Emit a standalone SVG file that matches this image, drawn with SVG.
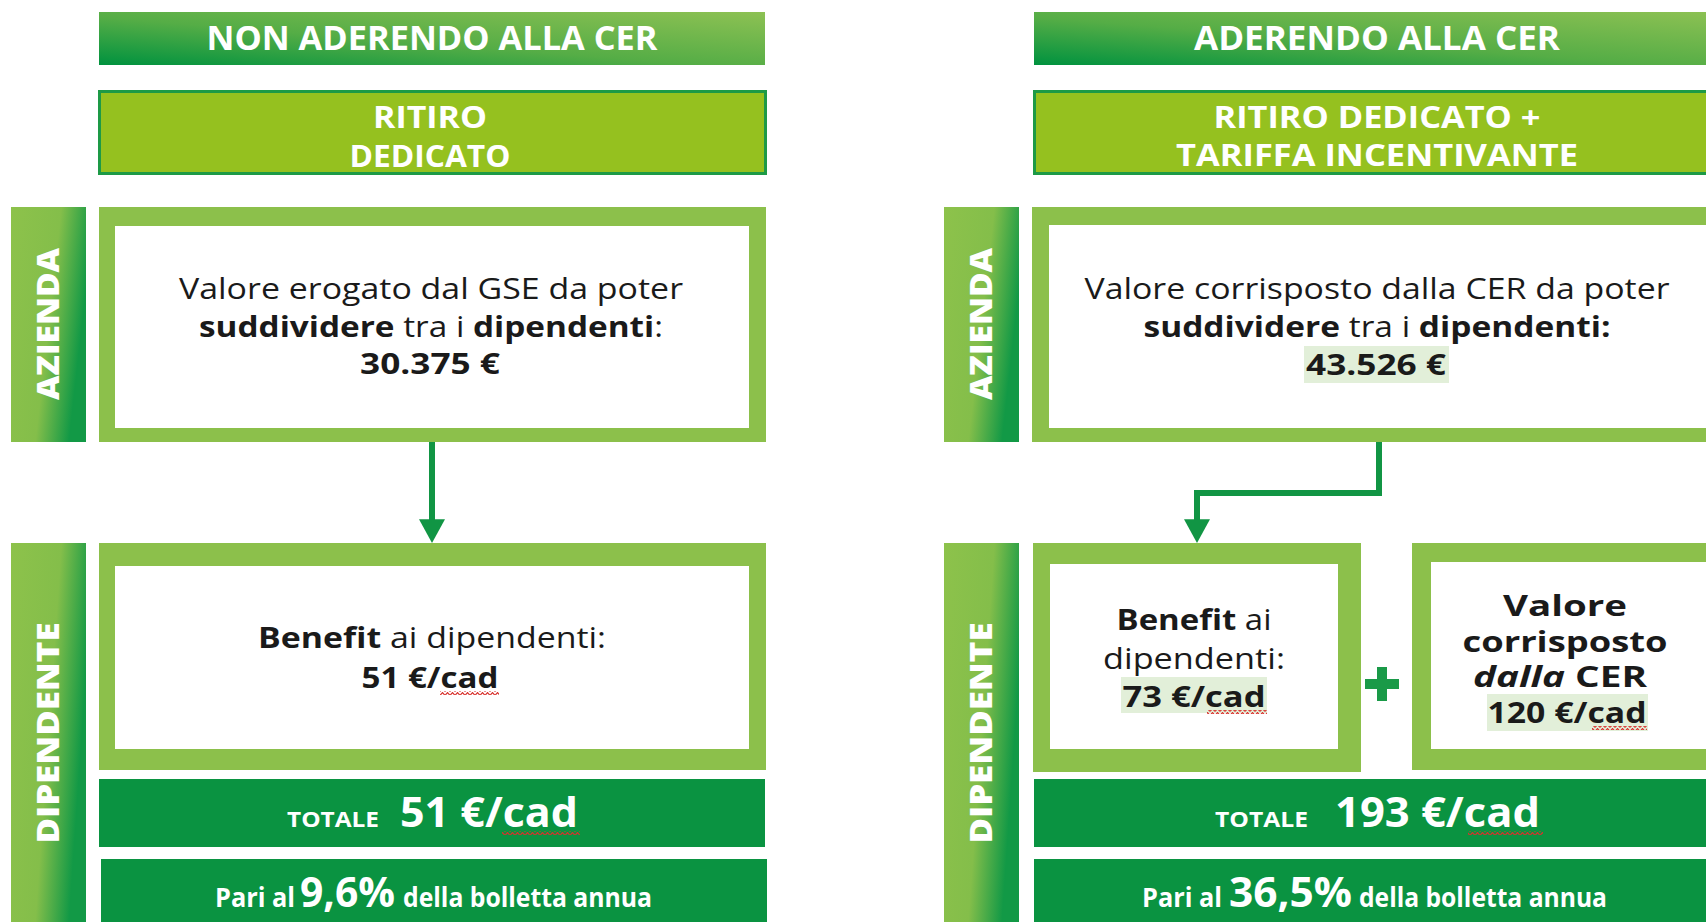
<svg xmlns="http://www.w3.org/2000/svg" width="1706" height="922" viewBox="0 0 1706 922">
<defs>
<linearGradient id="gHdr" x1="0" y1="1" x2="1" y2="0">
<stop offset="0" stop-color="#00923f"/>
<stop offset="0.45" stop-color="#55ad46"/>
<stop offset="1" stop-color="#8dc153"/>
</linearGradient>
<linearGradient id="gSide" x1="0" y1="0" x2="1" y2="0.35">
<stop offset="0" stop-color="#8dc24b"/>
<stop offset="0.6" stop-color="#84be4a"/>
<stop offset="1" stop-color="#129946"/>
</linearGradient>
<pattern id="squig" width="5" height="4" patternUnits="userSpaceOnUse">
<path d="M0,3.4 L2.5,0.6 L5,3.4" fill="none" stroke="#d8302c" stroke-width="1.2"/>
</pattern>
<marker id="arrow" markerUnits="userSpaceOnUse" markerWidth="24" markerHeight="26" viewBox="0 0 22 24" refX="10" refY="12" orient="auto">
<path d="M0,0 L22,12 L0,24 z" fill="#119544"/>
</marker>
<style>
text{font-family:"Open Sans","Liberation Sans",sans-serif}
.hdr{font-size:34px;font-weight:700;fill:#fff;text-anchor:middle}
.sub{font-size:31px;font-weight:700;fill:#fff;text-anchor:middle}
.side{font-size:30px;font-weight:800;fill:#fff;text-anchor:middle}
.body{font-size:29px;font-weight:400;fill:#1a1a1a;text-anchor:middle}
.sm{font-size:28px}
.b{font-weight:700}
.bi{font-weight:700;font-style:italic}
.ts{font-size:21px;font-weight:700;fill:#fff}
.tl{font-size:42px;font-weight:700;fill:#fff}
.ps{font-size:26px;font-weight:700;fill:#fff}
.pl{font-size:42px;font-weight:700;fill:#fff}
.frame{fill:#8cc04b}
.inner{fill:#fff}
.dark{fill:#0a9341}
.subbox{fill:#95c11f;stroke:#1d9a46;stroke-width:3}
.hl{fill:#e2efd9}
.conn{fill:none;stroke:#119544;stroke-width:6;stroke-linejoin:miter}
</style>
</defs>
<rect width="1706" height="922" fill="#fff"/>

<!-- LEFT COLUMN -->
<g id="hdr-left">
<rect x="99" y="12" width="666" height="53" fill="url(#gHdr)"/>
<text class="hdr" x="432" y="50" textLength="451" lengthAdjust="spacingAndGlyphs">NON ADERENDO ALLA CER</text>
</g>
<g id="sub-left">
<rect class="subbox" x="99.5" y="91.5" width="666" height="82"/>
<text class="sub" x="430" y="128" textLength="114" lengthAdjust="spacingAndGlyphs">RITIRO</text>
<text class="sub" x="430" y="167" textLength="161" lengthAdjust="spacingAndGlyphs">DEDICATO</text>
</g>
<g id="label-azienda-left">
<rect x="11" y="207" width="75" height="235" fill="url(#gSide)"/>
<text class="side" transform="translate(59,324) rotate(-90)" textLength="152" lengthAdjust="spacingAndGlyphs">AZIENDA</text>
</g>
<g id="azienda-left">
<rect class="frame" x="99" y="207" width="667" height="235"/>
<rect class="inner" x="115" y="226" width="634" height="202"/>
<text class="body" x="431" y="299" textLength="504" lengthAdjust="spacingAndGlyphs">Valore erogato dal GSE da poter</text>
<text class="body" x="431" y="337" textLength="464" lengthAdjust="spacingAndGlyphs"><tspan class="b">suddividere</tspan> tra i <tspan class="b">dipendenti</tspan>:</text>
<text class="body b" x="430" y="374" textLength="140" lengthAdjust="spacingAndGlyphs">30.375 €</text>
</g>
<g id="label-dipendente-left">
<rect x="11" y="543" width="75" height="379" fill="url(#gSide)"/>
<text class="side" transform="translate(59,733) rotate(-90)" textLength="221" lengthAdjust="spacingAndGlyphs">DIPENDENTE</text>
</g>
<g id="dipendente-left">
<rect class="frame" x="99" y="543" width="667" height="227"/>
<rect class="inner" x="115" y="566" width="634" height="183"/>
<text class="body" x="432" y="648" textLength="348" lengthAdjust="spacingAndGlyphs"><tspan class="b">Benefit</tspan> ai dipendenti:</text>
<text class="body b" x="430" y="688" textLength="137" lengthAdjust="spacingAndGlyphs">51 €/cad</text>
<rect x="440" y="691" width="59" height="4" fill="url(#squig)"/>
</g>
<g id="totale-left">
<rect class="dark" x="99" y="779" width="666" height="68"/>
<text class="ts" x="287" y="827" textLength="92" lengthAdjust="spacingAndGlyphs">TOTALE</text>
<text class="tl" x="400" y="827" textLength="178" lengthAdjust="spacingAndGlyphs">51 €/cad</text>
<rect x="502" y="831" width="78" height="4" fill="url(#squig)"/>
</g>
<g id="pari-left">
<rect class="dark" x="101" y="859" width="666" height="70"/>
<text class="ps" x="215" y="907" textLength="80" lengthAdjust="spacingAndGlyphs">Pari al</text>
<text class="pl" x="300" y="907" textLength="95" lengthAdjust="spacingAndGlyphs">9,6%</text>
<text class="ps" x="403" y="907" textLength="249" lengthAdjust="spacingAndGlyphs">della bolletta annua</text>
</g>

<!-- RIGHT COLUMN -->
<g id="hdr-right">
<rect x="1034" y="12" width="690" height="53" fill="url(#gHdr)"/>
<text class="hdr" x="1377" y="50" textLength="366" lengthAdjust="spacingAndGlyphs">ADERENDO ALLA CER</text>
</g>
<g id="sub-right">
<rect class="subbox" x="1034.5" y="91.5" width="690" height="82"/>
<text class="sub" x="1377" y="128" textLength="327" lengthAdjust="spacingAndGlyphs">RITIRO DEDICATO +</text>
<text class="sub" x="1377" y="166" textLength="402" lengthAdjust="spacingAndGlyphs">TARIFFA INCENTIVANTE</text>
</g>
<g id="label-azienda-right">
<rect x="944" y="207" width="75" height="235" fill="url(#gSide)"/>
<text class="side" transform="translate(992,324) rotate(-90)" textLength="152" lengthAdjust="spacingAndGlyphs">AZIENDA</text>
</g>
<g id="azienda-right">
<rect class="frame" x="1032" y="207" width="690" height="235"/>
<rect class="inner" x="1049" y="225" width="670" height="203"/>
<text class="body" x="1377" y="299" textLength="585" lengthAdjust="spacingAndGlyphs">Valore corrisposto dalla CER da poter</text>
<text class="body" x="1377" y="337" textLength="467" lengthAdjust="spacingAndGlyphs"><tspan class="b">suddividere</tspan> tra i <tspan class="b">dipendenti:</tspan></text>
<rect class="hl" x="1304" y="346" width="145" height="37"/>
<text class="body b" x="1376" y="375" textLength="140" lengthAdjust="spacingAndGlyphs">43.526 €</text>
</g>
<g id="label-dipendente-right">
<rect x="944" y="543" width="75" height="379" fill="url(#gSide)"/>
<text class="side" transform="translate(992,733) rotate(-90)" textLength="221" lengthAdjust="spacingAndGlyphs">DIPENDENTE</text>
</g>
<g id="benefit-right">
<rect class="frame" x="1033" y="543" width="328" height="229"/>
<rect class="inner" x="1050" y="564" width="288" height="185"/>
<text class="body" x="1194" y="630" textLength="155" lengthAdjust="spacingAndGlyphs"><tspan class="b">Benefit</tspan> ai</text>
<text class="body" x="1194" y="669" textLength="182" lengthAdjust="spacingAndGlyphs">dipendenti:</text>
<rect class="hl" x="1121" y="677" width="146" height="36"/>
<text class="body b" x="1194" y="707" textLength="143" lengthAdjust="spacingAndGlyphs">73 €/cad</text>
<rect x="1207" y="710" width="60" height="4" fill="url(#squig)"/>
</g>
<g id="plus">
<rect x="1365" y="679" width="34" height="10" fill="#1a9a48"/>
<rect x="1377" y="667" width="10" height="34" fill="#1a9a48"/>
</g>
<g id="valore-right">
<rect class="frame" x="1412" y="543" width="310" height="227"/>
<rect class="inner" x="1431" y="562" width="290" height="187"/>
<text class="body sm b" x="1565" y="616" textLength="124" lengthAdjust="spacingAndGlyphs">Valore</text>
<text class="body sm b" x="1565" y="652" textLength="205" lengthAdjust="spacingAndGlyphs">corrisposto</text>
<text class="body sm" x="1560" y="687" textLength="174" lengthAdjust="spacingAndGlyphs"><tspan class="bi">dalla</tspan><tspan class="b"> CER</tspan></text>
<rect class="hl" x="1487" y="694" width="161" height="37"/>
<text class="body sm b" x="1567" y="723" textLength="159" lengthAdjust="spacingAndGlyphs">120 €/cad</text>
<rect x="1592" y="726" width="55" height="4" fill="url(#squig)"/>
</g>
<g id="totale-right">
<rect class="dark" x="1034" y="779" width="690" height="68"/>
<text class="ts" x="1215" y="827" textLength="93" lengthAdjust="spacingAndGlyphs">TOTALE</text>
<text class="tl" x="1335" y="827" textLength="205" lengthAdjust="spacingAndGlyphs">193 €/cad</text>
<rect x="1468" y="831" width="75" height="4" fill="url(#squig)"/>
</g>
<g id="pari-right">
<rect class="dark" x="1034" y="859" width="690" height="70"/>
<text class="ps" x="1142" y="907" textLength="80" lengthAdjust="spacingAndGlyphs">Pari al</text>
<text class="pl" x="1229" y="907" textLength="123" lengthAdjust="spacingAndGlyphs">36,5%</text>
<text class="ps" x="1359" y="907" textLength="248" lengthAdjust="spacingAndGlyphs">della bolletta annua</text>
</g>

<g id="connectors">
<path class="conn" d="M432,442 L432,530" marker-end="url(#arrow)"/>
<path class="conn" d="M1379,442 L1379,493 L1197,493 L1197,530" stroke-width="7" marker-end="url(#arrow)"/>
</g>
</svg>
